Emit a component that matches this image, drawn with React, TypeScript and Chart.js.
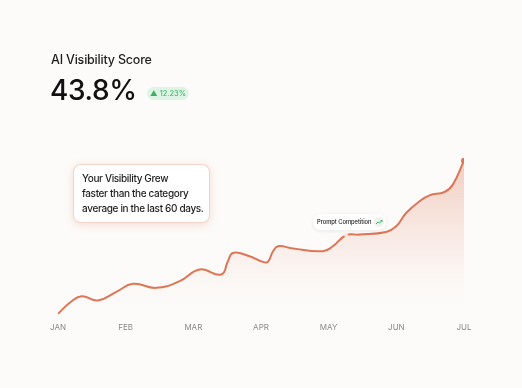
import React, { useEffect, useRef } from "react";
import { Chart, registerables } from "chart.js";

Chart.register(...registerables);

const monthLabels = ["JAN", "FEB", "MAR", "APR", "MAY", "JUN", "JUL"];
// x position in months since JAN
const xMonths = [0, 0.173, 0.346, 0.591, 0.862, 1.108, 1.453, 1.797, 2.093, 2.413, 2.511, 2.585, 2.831, 3.027, 3.101, 3.178, 3.252, 3.473, 3.914, 4.062, 4.259, 4.456, 4.85, 4.998, 5.145, 5.342, 5.49, 5.712, 5.835, 6];
const scoreValues = [4.44, 7.26, 8.97, 7.87, 10.08, 12.13, 11.1, 12.82, 15.82, 14.54, 17.95, 20.08, 19.23, 17.77, 17.77, 20.51, 21.79, 21.21, 20.51, 21.79, 24.62, 24.79, 25.46, 26.92, 30.33, 33.33, 34.87, 35.72, 37.62, 43.77];
const markerIndex = 20; // "Prompt Competition" point

const LINE = "#dc7656";
const FONT = "Inter, 'Noto Sans', sans-serif";

export default function App() {
  const ref = useRef<HTMLCanvasElement | null>(null);

  useEffect(() => {
    document.body.style.margin = "0";
    document.body.style.background = "#fcfbf9";
    const ctx = ref.current!.getContext("2d")!;
    const last = scoreValues.length - 1;
    const chart = new Chart(ctx, {
      type: "line",
      data: {
        datasets: [
          {
            data: xMonths.map((x, i) => ({ x, y: scoreValues[i] })),
            borderColor: LINE,
            borderWidth: 2,
            tension: 0.45,
            fill: "start",
            backgroundColor: (c: any) => {
              const area = c.chart.chartArea;
              if (!area) return "rgba(220,120,90,0.2)";
              const g = c.chart.ctx.createLinearGradient(0, area.top, 0, area.bottom);
              g.addColorStop(0, "rgba(222,130,100,0.42)");
              g.addColorStop(0.55, "rgba(235,170,150,0.18)");
              g.addColorStop(1, "rgba(252,251,249,0)");
              return g;
            },
            pointRadius: (c: any) => (c.dataIndex === last ? 3 : c.dataIndex === markerIndex ? 2 : 0),
            pointBackgroundColor: (c: any) => (c.dataIndex === last ? LINE : "#f6e2da"),
            pointBorderWidth: 0,
          },
        ],
      },
      options: {
        animation: false,
        responsive: false,
        maintainAspectRatio: false,
        layout: { padding: { left: 58, right: 58, top: 152, bottom: 53 } },
        plugins: { legend: { display: false }, tooltip: { enabled: false } },
        scales: {
          x: {
            type: "linear",
            min: 0,
            max: 6,
            grid: { display: false, drawTicks: false },
            border: { display: false },
            ticks: {
              stepSize: 1,
              padding: 3,
              color: "#8a8a8a",
              font: { family: FONT, size: 8 },
              callback: (v: any) => monthLabels[Math.round(Number(v))] ?? "",
            },
          },
          y: { display: false, min: 3, max: 46 },
        },
      },
    });
    return () => chart.destroy();
  }, []);

  return (
    <div style={{ position: "fixed", left: 0, top: 0, width: 522, height: 388, background: "#fcfbf9", fontFamily: FONT, overflow: "hidden" }}>
      <canvas ref={ref} width={522} height={388} style={{ position: "absolute", left: 0, top: 0, width: 522, height: 388 }} />
      <div style={{ position: "absolute", left: 51, top: 52, fontSize: 12.5, color: "#1f1f1f", fontWeight: 500, lineHeight: "16px", letterSpacing: -0.2 }}>AI Visibility Score</div>
      <div style={{ position: "absolute", left: 50, top: 74, fontSize: 28, color: "#111", fontWeight: 450, lineHeight: "32px", letterSpacing: -0.4 }}>43.8%</div>
      <div style={{ position: "absolute", left: 147, top: 87, width: 42, height: 13, borderRadius: 7, background: "#def5e5", color: "#3fae63", fontSize: 7.5, lineHeight: "13px", textAlign: "center" }}>▲ 12.23%</div>
      <div style={{ position: "absolute", left: 73, top: 164, width: 137, height: 59, boxSizing: "border-box", borderRadius: 8, background: "#ffffff", border: "1px solid rgba(232,180,160,0.55)", boxShadow: "0 2px 9px rgba(225,140,110,0.28)", padding: "6px 0 0 8px", fontSize: 10, fontWeight: 450, color: "#1f1f1f", lineHeight: "15px", whiteSpace: "nowrap", letterSpacing: -0.35 }}>
        <div>Your Visibility Grew</div>
        <div>faster than the category</div>
        <div>average in the last 60 days.</div>
      </div>
      <div style={{ position: "absolute", left: 313, top: 214, width: 73, height: 16, boxSizing: "border-box", borderRadius: 8, background: "#ffffff", boxShadow: "0 1px 4px rgba(0,0,0,0.08)", fontSize: 5.8, fontWeight: 500, color: "#222", lineHeight: "16px", paddingLeft: 4, whiteSpace: "nowrap", letterSpacing: -0.05 }}>
        Prompt Competition
        <div style={{ position: "absolute", right: 2, top: 3, width: 10, height: 10, borderRadius: 5, background: "#eef1ee" }}>
          <svg width="10" height="10" viewBox="0 0 10 10" style={{ display: "block" }}>
            <polyline points="2,7 4,5 5.5,6 8,3.5" fill="none" stroke="#3fb866" strokeWidth="1" />
            <polyline points="6.5,3.5 8,3.5 8,5" fill="none" stroke="#3fb866" strokeWidth="1" />
          </svg>
        </div>
      </div>
    </div>
  );
}
